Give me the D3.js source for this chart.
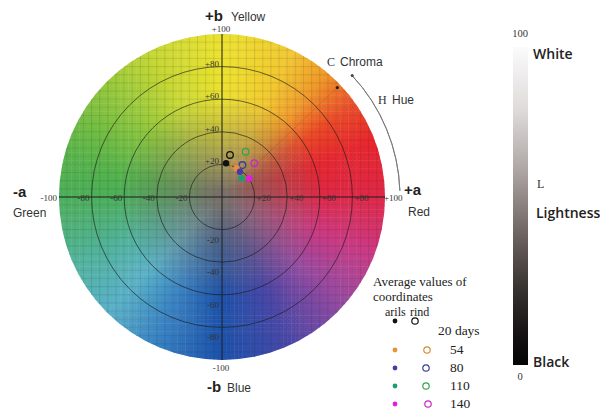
<!DOCTYPE html>
<html>
<head>
<meta charset="utf-8">
<script src="https://cdn.jsdelivr.net/npm/d3@7"></script>
<style>
  body { margin: 0; background: #fff; }
  svg { display: block; }
</style>
</head>
<body>
<svg id="plot"></svg>
<script>
// measured values, a* / b* coordinates
var days = ["20 days", "54", "80", "110", "140"];
var arilA = [2.5, 9, 11, 12, 16.8];
var arilB = [20.7, 17.5, 15.5, 11.5, 11.5];
var rindA = [4.9, 7.5, 12.5, 14.5, 19.8];
var rindB = [25.8, 19.5, 19.6, 27.8, 20.7];
var arilColors = ["#111111", "#e8903c", "#4a3aa8", "#1e9e6e", "#e21ce0"];
var rindColors = ["#111111", "#d88a3a", "#3c3c9c", "#3aa050", "#c828c8"];

var axisTicks = [-100, -80, -60, -40, -20, 20, 40, 60, 80, 100];
var chromaRings = [20, 40, 60, 80];

// hue stops for the background wheel (angle in degrees, colour)
var hueStops = [
  [0, "#e02848"], [20, "#e8262e"], [35, "#ec4a28"], [50, "#f09a2a"],
  [65, "#f2c830"], [90, "#ece22e"], [115, "#c8d834"], [140, "#8cc63e"],
  [165, "#56b44a"], [180, "#4caf5a"], [205, "#52b4a0"], [225, "#5ab2c8"],
  [245, "#3a84c4"], [270, "#1c52ac"], [295, "#4a48a8"], [320, "#9a4aa0"],
  [340, "#cc3a84"], [360, "#e02848"]
];

var width = 600, height = 411;
var cx = 222, cy = 197, R = 163;

var svg = d3.select("#plot").attr("width", width).attr("height", height);

var x = d3.scaleLinear().domain([-100, 100]).range([cx - R, cx + R]);
var y = d3.scaleLinear().domain([-100, 100]).range([cy + R, cy - R]);

var hueScale = d3.scaleLinear()
  .domain(hueStops.map(function(d) { return d[0]; }))
  .range(hueStops.map(function(d) { return d[1]; }))
  .interpolate(d3.interpolateRgb);

function cellColor(a, b) {
  var r = Math.sqrt(a * a + b * b);
  var ang = Math.atan2(b, a) * 180 / Math.PI;
  if (ang < 0) ang += 360;
  var t = Math.max(0, Math.min(1, (r - 4) / 58));
  t = Math.pow(t, 0.85);
  return d3.interpolateRgb("#78706a", hueScale(ang))(t);
}

var defs = svg.append("defs");
defs.append("clipPath").attr("id", "wheelClip")
  .append("circle").attr("cx", cx).attr("cy", cy).attr("r", R);

var wheel = svg.append("g").attr("clip-path", "url(#wheelClip)");

// colour cells
var step = 2.5;
var cells = [];
for (var a = -100; a < 100; a += step) {
  for (var b = -100; b < 100; b += step) {
    var ca = a + step / 2, cb = b + step / 2;
    if (Math.sqrt(ca * ca + cb * cb) < 104) cells.push([a, b]);
  }
}
wheel.selectAll("rect.cell").data(cells).enter().append("rect")
  .attr("class", "cell")
  .attr("x", function(d) { return x(d[0]); })
  .attr("y", function(d) { return y(d[1] + step); })
  .attr("width", x(step) - x(0) + 0.4)
  .attr("height", x(step) - x(0) + 0.4)
  .attr("fill", function(d) { return cellColor(d[0] + step / 2, d[1] + step / 2); });

// fine grid
var gridVals = d3.range(-100, 101, 5);
wheel.selectAll("line.gx").data(gridVals).enter().append("line")
  .attr("x1", function(d) { return x(d); }).attr("x2", function(d) { return x(d); })
  .attr("y1", y(100)).attr("y2", y(-100))
  .attr("stroke", "#2a2a2a").attr("stroke-opacity", 0.22).attr("stroke-width", 0.6);
wheel.selectAll("line.gy").data(gridVals).enter().append("line")
  .attr("y1", function(d) { return y(d); }).attr("y2", function(d) { return y(d); })
  .attr("x1", x(-100)).attr("x2", x(100))
  .attr("stroke", "#2a2a2a").attr("stroke-opacity", 0.22).attr("stroke-width", 0.6);

// chroma rings
svg.selectAll("circle.ring").data(chromaRings).enter().append("circle")
  .attr("cx", cx).attr("cy", cy)
  .attr("r", function(d) { return x(d) - x(0); })
  .attr("fill", "none").attr("stroke", "#1a1a1a").attr("stroke-opacity", 0.8).attr("stroke-width", 0.8);

// axes
svg.append("line").attr("x1", x(-100)).attr("x2", x(100)).attr("y1", y(0)).attr("y2", y(0))
  .attr("stroke", "#222").attr("stroke-width", 1);
svg.append("line").attr("x1", x(0)).attr("x2", x(0)).attr("y1", y(100)).attr("y2", y(-100))
  .attr("stroke", "#222").attr("stroke-width", 1);

function tickText(d) { return d > 0 ? "+" + d : String(d); }

// tick labels on a*
svg.selectAll("text.tx").data(axisTicks).enter().append("text")
  .attr("x", function(d) { return d < 0 ? x(d) - 2 : (d === 100 ? x(d) - 1 : x(d) + 2); })
  .attr("y", y(0) + 3.5)
  .attr("text-anchor", function(d) { return d < 0 ? "end" : "start"; })
  .attr("font-family", "Liberation Serif, serif").attr("font-size", 9)
  .attr("fill", "#333")
  .text(tickText);

// tick labels on b*
svg.selectAll("text.ty").data(axisTicks).enter().append("text")
  .attr("x", function(d) { return Math.abs(d) === 100 ? x(0) - 1 : x(0) - 3; })
  .attr("y", function(d) {
    if (d === 100) return y(d) - 2;
    if (d === -100) return y(d) + 11;
    return d > 0 ? y(d) : y(d) + 13;
  })
  .attr("text-anchor", function(d) { return Math.abs(d) === 100 ? "middle" : "end"; })
  .attr("font-family", "Liberation Serif, serif").attr("font-size", 9)
  .attr("fill", "#333")
  .text(tickText);

// chroma marker line and hue arc
var cAng = 43.5 * Math.PI / 180;
svg.append("line")
  .attr("x1", cx + (x(20) - x(0)) * Math.cos(cAng)).attr("y1", cy - (x(20) - x(0)) * Math.sin(cAng))
  .attr("x2", cx + (R - 4) * Math.cos(cAng)).attr("y2", cy - (R - 4) * Math.sin(cAng))
  .attr("stroke", "#8a3a20").attr("stroke-opacity", 0.25).attr("stroke-width", 0.8);
svg.append("circle")
  .attr("cx", cx + (R - 4) * Math.cos(cAng)).attr("cy", cy - (R - 4) * Math.sin(cAng))
  .attr("r", 1.6).attr("fill", "#222");

var arc = d3.arc().innerRadius(178).outerRadius(178)
  .startAngle(Math.PI / 2 - 43 * Math.PI / 180).endAngle(Math.PI / 2 - 2 * Math.PI / 180);
svg.append("path").attr("d", arc()).attr("transform", "translate(" + cx + "," + cy + ")")
  .attr("fill", "none").attr("stroke", "#777").attr("stroke-width", 0.9);
svg.append("circle")
  .attr("cx", cx + 178 * Math.cos(43 * Math.PI / 180)).attr("cy", cy - 178 * Math.sin(43 * Math.PI / 180))
  .attr("r", 1.5).attr("fill", "#444");

// data points
var rows = days.map(function(d, i) {
  return { day: d, aa: arilA[i], ab: arilB[i], ra: rindA[i], rb: rindB[i], ac: arilColors[i], rc: rindColors[i] };
});
svg.selectAll("circle.rind").data(rows).enter().append("circle")
  .attr("cx", function(d) { return x(d.ra); }).attr("cy", function(d) { return y(d.rb); })
  .attr("r", 3.3).attr("fill", "none")
  .attr("stroke", function(d) { return d.rc; }).attr("stroke-width", 1.3);
svg.selectAll("circle.aril").data(rows).enter().append("circle")
  .attr("cx", function(d) { return x(d.aa); }).attr("cy", function(d) { return y(d.ab); })
  .attr("r", 3.2)
  .attr("fill", function(d) { return d.ac; });

// axis names
function label(txt, px, py, size, weight, family, fill) {
  return svg.append("text").attr("x", px).attr("y", py)
    .attr("font-size", size).attr("font-weight", weight || "normal")
    .attr("font-family", family || "Liberation Sans, Arial, sans-serif")
    .attr("fill", fill || "#222").text(txt);
}
label("+b", 205, 21, 15, "bold");
label("Yellow", 231, 21, 12, "normal", null, "#333");
label("-b", 207, 392, 15, "bold");
label("Blue", 227, 392, 12, "normal", null, "#333");
label("-a", 13, 197, 15, "bold");
label("Green", 13, 217, 12, "normal", null, "#333");
label("+a", 404, 195, 15, "bold");
label("Red", 408, 216, 12, "normal", null, "#333");
label("C", 327, 66, 12, "normal", "Liberation Serif, serif", "#333");
label("Chroma", 340, 66, 12, "normal", null, "#333");
label("H", 378, 104, 12, "normal", "Liberation Serif, serif", "#333");
label("Hue", 392, 104, 12, "normal", null, "#333");

// lightness bar
var lGrad = defs.append("linearGradient").attr("id", "lGrad")
  .attr("x1", 0).attr("x2", 0).attr("y1", 0).attr("y2", 1);
[[0, "#fbfbfb"], [0.2, "#dedada"], [0.4, "#aaa2a0"], [0.5, "#8a807d"],
 [0.6, "#6a605e"], [0.75, "#3a3433"], [0.9, "#161314"], [1, "#050505"]]
  .forEach(function(s) { lGrad.append("stop").attr("offset", s[0]).attr("stop-color", s[1]); });

var lScale = d3.scaleLinear().domain([0, 100]).range([365, 47]);
svg.append("rect").attr("x", 513).attr("y", lScale(100))
  .attr("width", 15).attr("height", lScale(0) - lScale(100))
  .attr("fill", "url(#lGrad)");
label("100", 520, lScale(100) - 10, 10.5, "normal", "Liberation Serif, serif", "#333").attr("text-anchor", "middle");
label("0", 520, lScale(0) + 15, 10.5, "normal", "Liberation Serif, serif", "#333").attr("text-anchor", "middle");
label("White", 533, 59, 14, "600", "Open Sans, sans-serif", "#222");
label("L", 537, 188, 12, "normal", "Liberation Serif, serif", "#333");
label("Lightness", 536, 218, 14, "600", "Open Sans, sans-serif", "#222");
label("Black", 533, 367, 14, "600", "Open Sans, sans-serif", "#222");

// legend
var serif = "Liberation Serif, serif";
label("Average values of", 373, 286, 13, "normal", serif, "#222");
label("coordinates", 373, 301, 13, "normal", serif, "#222");
label("arils", 385, 316, 12, "normal", serif, "#222");
label("rind", 410, 316, 12, "normal", serif, "#222");

var rowY = [321, 350, 368, 386, 404];
var textY = [335, 354, 372, 390, 408];
var openX = [415, 427, 426, 426, 428];
var leg = svg.append("g");
leg.selectAll("circle.la").data(rows).enter().append("circle")
  .attr("cx", 395).attr("cy", function(d, i) { return rowY[i]; })
  .attr("r", 2.4).attr("fill", function(d) { return d.ac; });
leg.selectAll("circle.lr").data(rows).enter().append("circle")
  .attr("cx", function(d, i) { return openX[i]; }).attr("cy", function(d, i) { return rowY[i]; })
  .attr("r", 3.2).attr("fill", "none")
  .attr("stroke", function(d) { return d.rc; }).attr("stroke-width", 1.2);
leg.selectAll("text.lt").data(rows).enter().append("text")
  .attr("x", function(d, i) { return i === 0 ? 438 : 450; })
  .attr("y", function(d, i) { return textY[i]; })
  .attr("font-family", serif).attr("font-size", 13.5).attr("fill", "#222")
  .text(function(d) { return d.day; });
</script>
</body>
</html>
